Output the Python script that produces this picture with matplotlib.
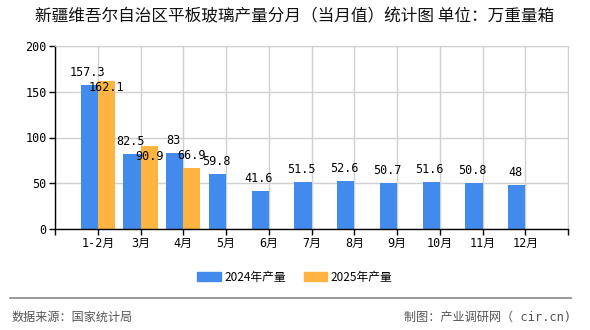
import matplotlib
matplotlib.use("Agg")
import matplotlib.pyplot as plt
from matplotlib.patches import Patch

plt.rcParams['font.family'] = ['Noto Sans CJK SC', 'DejaVu Sans']

months = ['1-2月', '3月', '4月', '5月', '6月', '7月', '8月', '9月', '10月', '11月', '12月']
v2024 = [157.3, 82.5, 83, 59.8, 41.6, 51.5, 52.6, 50.7, 51.6, 50.8, 48]
v2025 = [162.1, 90.9, 66.9]
lab2024 = ['157.3', '82.5', '83', '59.8', '41.6', '51.5', '52.6', '50.7', '51.6', '50.8', '48']
lab2025 = ['162.1', '90.9', '66.9']

blue = '#428BEC'
orange = '#FDB441'
mono = ['DejaVu Sans Mono', 'Noto Sans CJK SC']

fig = plt.figure(figsize=(5.9, 3.3), dpi=100)
ax = fig.add_axes([55 / 590, 1 - 229 / 330, 513 / 590, 183 / 330])

x = list(range(len(months)))
w = 0.4
ax.bar([i - w / 2 for i in x], v2024, width=w, color=blue, zorder=2)
ax.bar([i + w / 2 for i in range(len(v2025))], v2025, width=w, color=orange, zorder=2)

for i, v in enumerate(v2024):
    ax.annotate(lab2024[i], (i - w / 2, v), xytext=(-1, 9), textcoords='offset points',
                ha='center', va='center', fontsize=8.5, family=mono, zorder=3)
# 2025 labels sit at the 2024 bar height in the original
for i, v in enumerate(v2025):
    ax.annotate(lab2025[i], (i + w / 2, v2024[i]), xytext=(0, -2), textcoords='offset points',
                ha='center', va='center', fontsize=8.5, family=mono, zorder=3)

ax.set_xlim(-1, 11)
ax.set_ylim(0, 200)
ax.set_xticks(range(-1, 12))
ax.set_xticklabels([''] + months + [''], family=mono, fontsize=8.5)
ax.set_yticks([0, 50, 100, 150, 200])
ax.set_yticklabels(['0', '50', '100', '150', '200'], family=mono, fontsize=8.5)
ax.grid(True, color='#d0d0d0', linewidth=1, zorder=0)
ax.set_axisbelow(True)
ax.tick_params(axis='both', length=4, width=1, color='black', pad=2)
for s in ['top', 'right']:
    ax.spines[s].set_color('#d0d0d0')
for s in ['left', 'bottom']:
    ax.spines[s].set_color('black')
    ax.spines[s].set_linewidth(1)

fig.text(0.5, 1 - 17 / 330, '新疆维吾尔自治区平板玻璃产量分月（当月值）统计图 单位：万重量箱',
         ha='center', va='center', fontsize=12, color='#111111')

handles = [Patch(color=blue, label='2024年产量'), Patch(color=orange, label='2025年产量')]
fig.legend(handles=handles, loc='center', bbox_to_anchor=(0.5, 1 - 277 / 330), ncol=2,
           frameon=False, fontsize=8.5, handlelength=2.0, handleheight=0.8,
           columnspacing=1.5, handletextpad=0.3)

fig.add_artist(plt.Line2D([10 / 590, 571 / 590], [1 - 298 / 330] * 2,
                          color='#888888', linewidth=1.2))
fig.text(12 / 590, 1 - 317 / 330, '数据来源：国家统计局', ha='left', va='center',
         fontsize=8.7, color='#555555')
fig.text(571 / 590, 1 - 317 / 330, '制图：产业调研网（ cir.cn)', ha='right', va='center',
         fontsize=8.7, color='#555555', family=mono)

fig.savefig('out.png', dpi=100)
